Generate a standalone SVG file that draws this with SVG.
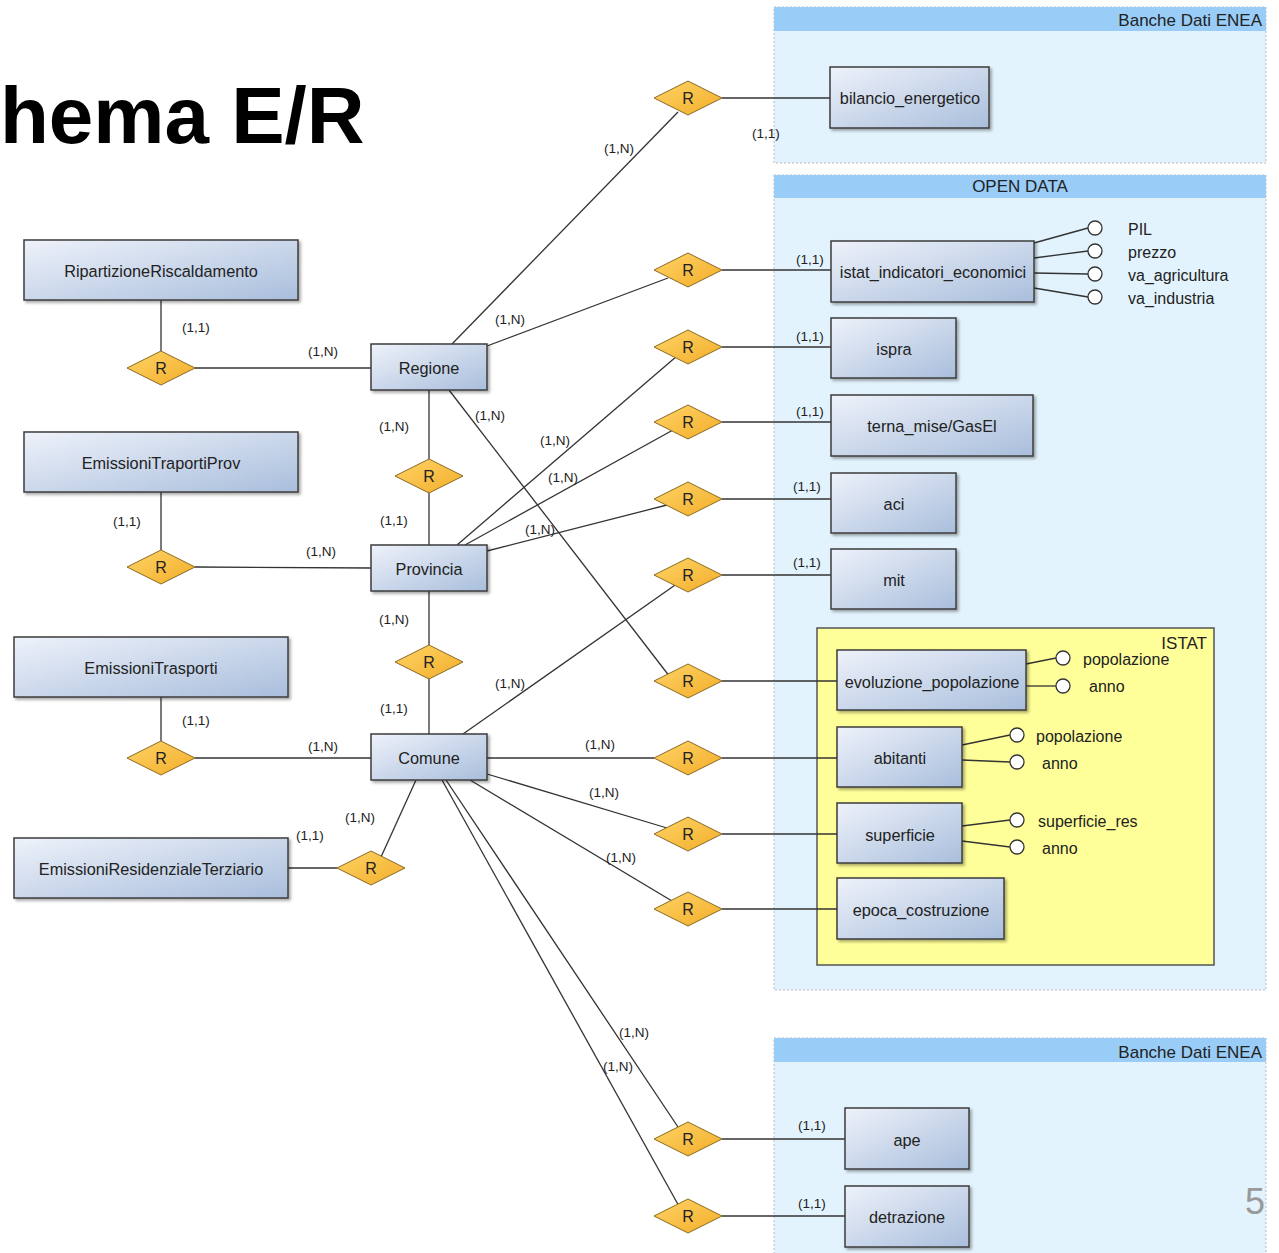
<svg xmlns="http://www.w3.org/2000/svg" width="1279" height="1253" viewBox="0 0 1279 1253">
<defs>
<linearGradient id="eg" x1="0" y1="0" x2="1" y2="1">
<stop offset="0" stop-color="#eef2fa"/>
<stop offset="1" stop-color="#a9bedc"/>
</linearGradient>
<linearGradient id="dg" x1="0" y1="0" x2="1" y2="1">
<stop offset="0" stop-color="#ffd466"/>
<stop offset="1" stop-color="#f2ad2a"/>
</linearGradient>
<filter id="sh" x="-10%" y="-10%" width="130%" height="140%">
<feDropShadow dx="2" dy="2" stdDeviation="1.5" flood-color="#000" flood-opacity="0.35"/>
</filter>
</defs>
<style>
.ent{fill:url(#eg);stroke:#3c3c3c;stroke-width:1.5;filter:url(#sh)}
.dia{fill:url(#dg);stroke:#8a6a22;stroke-width:1}
.et{font-family:"Liberation Sans",Arial,sans-serif;font-size:16.3px;fill:#222;text-anchor:middle;dominant-baseline:central}
.dt{font-family:"Liberation Sans",Arial,sans-serif;font-size:16px;fill:#222;text-anchor:middle;dominant-baseline:central}
.lb{font-family:"Liberation Sans",Arial,sans-serif;font-size:13.5px;fill:#222;text-anchor:middle;dominant-baseline:central}
.at{font-family:"Liberation Sans",Arial,sans-serif;font-size:16px;fill:#222;dominant-baseline:central}
.cn line{stroke:#333;stroke-width:1.3;fill:none}
.att{fill:#fff;stroke:#333;stroke-width:1.3}
.cbody{fill:#e3f3fd;stroke:#bbbbbb;stroke-width:1;stroke-dasharray:2 2}
.chead{fill:#99ccf7}
.ct{font-family:"Liberation Sans",Arial,sans-serif;font-size:17px;fill:#222}
</style>
<rect width="1279" height="1253" fill="#fff"/>
<text x="0" y="143" font-family="Liberation Sans,Arial,sans-serif" font-size="80" font-weight="bold" fill="#000">hema E/R</text>

<g id="containers">
<rect class="cbody" x="774" y="7" width="492" height="156"/>
<rect class="chead" x="774" y="7" width="492" height="24"/>
<text class="ct" x="1262" y="26" text-anchor="end">Banche Dati ENEA</text>
<rect class="cbody" x="774" y="175" width="492" height="815"/>
<rect class="chead" x="774" y="175" width="492" height="23"/>
<text class="ct" x="1020" y="192" text-anchor="middle" font-size="16.5">OPEN DATA</text>
<rect x="817" y="628" width="397" height="337" fill="#ffff99" stroke="#555" stroke-width="1.5"/>
<text class="ct" x="1207" y="649" text-anchor="end" font-size="14">ISTAT</text>
<rect class="cbody" x="774" y="1038" width="492" height="220"/>
<rect class="chead" x="774" y="1038" width="492" height="24"/>
<text class="ct" x="1262" y="1058" text-anchor="end">Banche Dati ENEA</text>
</g>

<g id="connectors" class="cn">
<line x1="452" y1="344" x2="678" y2="112"/>
<line x1="487" y1="346" x2="668" y2="278"/>
<line x1="722" y1="270" x2="831" y2="270"/>
<line x1="722" y1="98" x2="830" y2="98"/>
<line x1="195" y1="368" x2="371" y2="368"/>
<line x1="161" y1="300" x2="161" y2="351"/>
<line x1="429" y1="390" x2="429" y2="459"/>
<line x1="429" y1="493" x2="429" y2="545"/>
<line x1="449" y1="390" x2="680" y2="690"/>
<line x1="457" y1="545" x2="677" y2="356"/>
<line x1="465" y1="545" x2="673" y2="430"/>
<line x1="487" y1="551" x2="667" y2="505"/>
<line x1="195" y1="567" x2="371" y2="568"/>
<line x1="161" y1="492" x2="161" y2="550"/>
<line x1="429" y1="591" x2="429" y2="645"/>
<line x1="429" y1="679" x2="429" y2="734"/>
<line x1="463" y1="734" x2="678" y2="583"/>
<line x1="195" y1="758" x2="371" y2="758"/>
<line x1="161" y1="697" x2="161" y2="741"/>
<line x1="487" y1="758" x2="654" y2="758"/>
<line x1="487" y1="774" x2="667" y2="828"/>
<line x1="470" y1="780" x2="672" y2="901"/>
<line x1="446" y1="780" x2="680" y2="1130"/>
<line x1="442" y1="780" x2="680" y2="1208"/>
<line x1="416" y1="780" x2="381" y2="857"/>
<line x1="288" y1="868" x2="337" y2="868"/>
<line x1="722" y1="347" x2="831" y2="347"/>
<line x1="722" y1="422" x2="831" y2="422"/>
<line x1="722" y1="499" x2="831" y2="499"/>
<line x1="722" y1="575" x2="831" y2="575"/>
<line x1="722" y1="681" x2="837" y2="681"/>
<line x1="722" y1="758" x2="837" y2="758"/>
<line x1="722" y1="834" x2="837" y2="834"/>
<line x1="722" y1="909" x2="837" y2="909"/>
<line x1="722" y1="1139" x2="845" y2="1139"/>
<line x1="722" y1="1216" x2="845" y2="1216"/>
<line x1="1034" y1="243" x2="1088" y2="228"/>
<line x1="1034" y1="258" x2="1088" y2="251"/>
<line x1="1034" y1="273" x2="1088" y2="274"/>
<line x1="1034" y1="288" x2="1088" y2="297"/>
<line x1="1026" y1="664" x2="1056" y2="658"/>
<line x1="1026" y1="686" x2="1056" y2="686"/>
<line x1="962" y1="745" x2="1010" y2="735"/>
<line x1="962" y1="760" x2="1010" y2="762"/>
<line x1="962" y1="826" x2="1010" y2="820"/>
<line x1="962" y1="841" x2="1010" y2="847"/>
</g>

<g id="labels">
<text class="lb" x="619" y="148">(1,N)</text>
<text class="lb" x="766" y="133">(1,1)</text>
<text class="lb" x="510" y="319">(1,N)</text>
<text class="lb" x="810" y="259">(1,1)</text>
<text class="lb" x="196" y="327">(1,1)</text>
<text class="lb" x="323" y="351">(1,N)</text>
<text class="lb" x="394" y="426">(1,N)</text>
<text class="lb" x="490" y="415">(1,N)</text>
<text class="lb" x="555" y="440">(1,N)</text>
<text class="lb" x="563" y="477">(1,N)</text>
<text class="lb" x="540" y="529">(1,N)</text>
<text class="lb" x="394" y="520">(1,1)</text>
<text class="lb" x="127" y="521">(1,1)</text>
<text class="lb" x="321" y="551">(1,N)</text>
<text class="lb" x="394" y="619">(1,N)</text>
<text class="lb" x="394" y="708">(1,1)</text>
<text class="lb" x="510" y="683">(1,N)</text>
<text class="lb" x="196" y="720">(1,1)</text>
<text class="lb" x="323" y="746">(1,N)</text>
<text class="lb" x="600" y="744">(1,N)</text>
<text class="lb" x="604" y="792">(1,N)</text>
<text class="lb" x="621" y="857">(1,N)</text>
<text class="lb" x="634" y="1032">(1,N)</text>
<text class="lb" x="618" y="1066">(1,N)</text>
<text class="lb" x="360" y="817">(1,N)</text>
<text class="lb" x="310" y="835">(1,1)</text>
<text class="lb" x="810" y="336">(1,1)</text>
<text class="lb" x="810" y="411">(1,1)</text>
<text class="lb" x="807" y="486">(1,1)</text>
<text class="lb" x="807" y="562">(1,1)</text>
<text class="lb" x="812" y="1125">(1,1)</text>
<text class="lb" x="812" y="1203">(1,1)</text>
</g>

<g id="e_ripartizione"><rect class="ent" x="24" y="240" width="274" height="60"/><text class="et" x="161" y="271">RipartizioneRiscaldamento</text></g>
<g id="e_emtrprov"><rect class="ent" x="24" y="432" width="274" height="60"/><text class="et" x="161" y="463">EmissioniTraportiProv</text></g>
<g id="e_emtrasp"><rect class="ent" x="14" y="637" width="274" height="60"/><text class="et" x="151" y="668">EmissioniTrasporti</text></g>
<g id="e_emres"><rect class="ent" x="14" y="838" width="274" height="60"/><text class="et" x="151" y="869">EmissioniResidenzialeTerziario</text></g>
<g id="e_regione"><rect class="ent" x="371" y="344" width="116" height="46"/><text class="et" x="429" y="368">Regione</text></g>
<g id="e_provincia"><rect class="ent" x="371" y="545" width="116" height="46"/><text class="et" x="429" y="569">Provincia</text></g>
<g id="e_comune"><rect class="ent" x="371" y="734" width="116" height="46"/><text class="et" x="429" y="758">Comune</text></g>
<g id="e_bilancio"><rect class="ent" x="830" y="67" width="159" height="61"/><text class="et" x="910" y="98">bilancio_energetico</text></g>
<g id="e_istat"><rect class="ent" x="831" y="241" width="203" height="61"/><text class="et" x="933" y="272">istat_indicatori_economici</text></g>
<g id="e_ispra"><rect class="ent" x="831" y="318" width="125" height="60"/><text class="et" x="894" y="349">ispra</text></g>
<g id="e_terna"><rect class="ent" x="831" y="395" width="202" height="61"/><text class="et" x="932" y="426">terna_mise/GasEl</text></g>
<g id="e_aci"><rect class="ent" x="831" y="473" width="125" height="60"/><text class="et" x="894" y="504">aci</text></g>
<g id="e_mit"><rect class="ent" x="831" y="549" width="125" height="60"/><text class="et" x="894" y="580">mit</text></g>
<g id="e_evoluzione"><rect class="ent" x="837" y="650" width="189" height="60"/><text class="et" x="932" y="682">evoluzione_popolazione</text></g>
<g id="e_abitanti"><rect class="ent" x="837" y="727" width="125" height="60"/><text class="et" x="900" y="758">abitanti</text></g>
<g id="e_superficie"><rect class="ent" x="837" y="803" width="125" height="60"/><text class="et" x="900" y="835">superficie</text></g>
<g id="e_epoca"><rect class="ent" x="837" y="878" width="167" height="61"/><text class="et" x="921" y="910">epoca_costruzione</text></g>
<g id="e_ape"><rect class="ent" x="845" y="1108" width="124" height="61"/><text class="et" x="907" y="1140">ape</text></g>
<g id="e_detrazione"><rect class="ent" x="845" y="1186" width="124" height="61"/><text class="et" x="907" y="1217">detrazione</text></g>

<g id="attributes">
<circle class="att" cx="1095" cy="228" r="7"/><text class="at" x="1128" y="229">PIL</text>
<circle class="att" cx="1095" cy="251" r="7"/><text class="at" x="1128" y="252">prezzo</text>
<circle class="att" cx="1095" cy="274" r="7"/><text class="at" x="1128" y="275">va_agricultura</text>
<circle class="att" cx="1095" cy="297" r="7"/><text class="at" x="1128" y="298">va_industria</text>
<circle class="att" cx="1063" cy="658" r="7"/><text class="at" x="1083" y="659">popolazione</text>
<circle class="att" cx="1063" cy="686" r="7"/><text class="at" x="1089" y="686">anno</text>
<circle class="att" cx="1017" cy="735" r="7"/><text class="at" x="1036" y="736">popolazione</text>
<circle class="att" cx="1017" cy="762" r="7"/><text class="at" x="1042" y="763">anno</text>
<circle class="att" cx="1017" cy="820" r="7"/><text class="at" x="1038" y="821">superficie_res</text>
<circle class="att" cx="1017" cy="847" r="7"/><text class="at" x="1042" y="848">anno</text>
</g>

<g id="r_bilancio"><polygon class="dia" points="654,98 688,81 722,98 688,115"/><text class="dt" x="688" y="98">R</text></g>
<g id="r_istat"><polygon class="dia" points="654,270 688,253 722,270 688,287"/><text class="dt" x="688" y="270">R</text></g>
<g id="r_ispra"><polygon class="dia" points="654,347 688,330 722,347 688,364"/><text class="dt" x="688" y="347">R</text></g>
<g id="r_terna"><polygon class="dia" points="654,422 688,405 722,422 688,439"/><text class="dt" x="688" y="422">R</text></g>
<g id="r_aci"><polygon class="dia" points="654,499 688,482 722,499 688,516"/><text class="dt" x="688" y="499">R</text></g>
<g id="r_mit"><polygon class="dia" points="654,575 688,558 722,575 688,592"/><text class="dt" x="688" y="575">R</text></g>
<g id="r_evoluzione"><polygon class="dia" points="654,681 688,664 722,681 688,698"/><text class="dt" x="688" y="681">R</text></g>
<g id="r_abitanti"><polygon class="dia" points="654,758 688,741 722,758 688,775"/><text class="dt" x="688" y="758">R</text></g>
<g id="r_superficie"><polygon class="dia" points="654,834 688,817 722,834 688,851"/><text class="dt" x="688" y="834">R</text></g>
<g id="r_epoca"><polygon class="dia" points="654,909 688,892 722,909 688,926"/><text class="dt" x="688" y="909">R</text></g>
<g id="r_ape"><polygon class="dia" points="654,1139 688,1122 722,1139 688,1156"/><text class="dt" x="688" y="1139">R</text></g>
<g id="r_detrazione"><polygon class="dia" points="654,1216 688,1199 722,1216 688,1233"/><text class="dt" x="688" y="1216">R</text></g>
<g id="r_ripartizione"><polygon class="dia" points="127,368 161,351 195,368 161,385"/><text class="dt" x="161" y="368">R</text></g>
<g id="r_emtrprov"><polygon class="dia" points="127,567 161,550 195,567 161,584"/><text class="dt" x="161" y="567">R</text></g>
<g id="r_emtrasp"><polygon class="dia" points="127,758 161,741 195,758 161,775"/><text class="dt" x="161" y="758">R</text></g>
<g id="r_emres"><polygon class="dia" points="337,868 371,851 405,868 371,885"/><text class="dt" x="371" y="868">R</text></g>
<g id="r_reg_prov"><polygon class="dia" points="395,476 429,459 463,476 429,493"/><text class="dt" x="429" y="476">R</text></g>
<g id="r_prov_com"><polygon class="dia" points="395,662 429,645 463,662 429,679"/><text class="dt" x="429" y="662">R</text></g>

<text x="1265" y="1214" font-family="Liberation Sans,Arial,sans-serif" font-size="36" fill="#999" text-anchor="end">5</text>
</svg>
